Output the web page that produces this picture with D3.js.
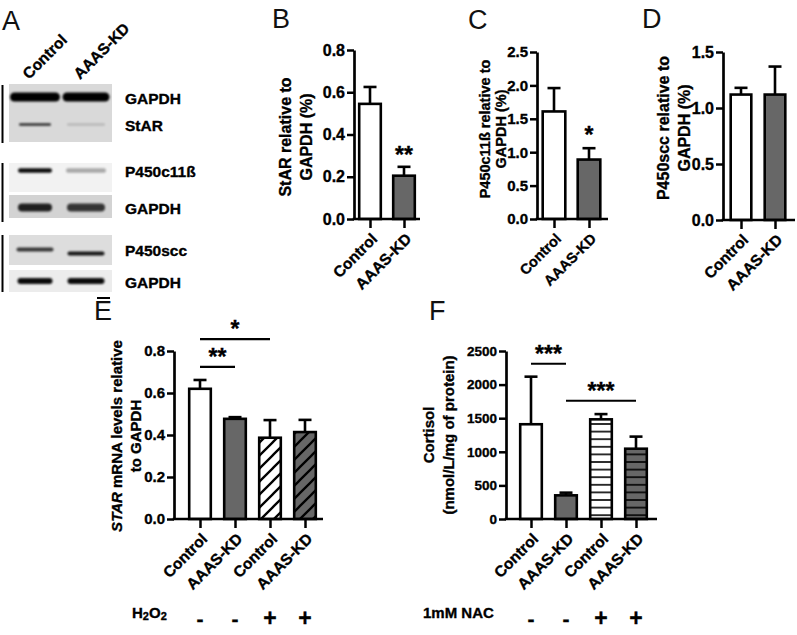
<!DOCTYPE html>
<html><head><meta charset="utf-8">
<script src="https://cdn.jsdelivr.net/npm/d3@7"></script>
<style>
body{margin:0;background:#fff}
svg{display:block}
text{font-family:"Liberation Sans",Arial,Helvetica,sans-serif}
text.heavy{stroke:#000;stroke-width:0.35px}
</style></head><body>
<svg id="fig" width="797" height="635"></svg>
<script>
// ---------------- DATA ----------------
const blotLanes = ["Control", "AAAS-KD"];
const blotProteins = ["GAPDH", "StAR", "P450c11ß", "GAPDH", "P450scc", "GAPDH"];
const blotIntensity = [[1, 1], [0.8, 0.15], [0.95, 0.3], [0.85, 0.75], [0.75, 0.9], [0.95, 0.95]];

const groups2 = ["Control", "AAAS-KD"];
const starProtein = [0.545, 0.205];
const starProteinSem = [0.08, 0.042];
const starTicks = [0, 0.2, 0.4, 0.6, 0.8];

const p450c11 = [1.61, 0.89];
const p450c11Sem = [0.35, 0.17];
const p450c11Ticks = [0, 0.5, 1.0, 1.5, 2.0, 2.5];

const p450scc = [1.12, 1.12];
const p450sccSem = [0.06, 0.25];
const p450sccTicks = [0, 0.5, 1.0, 1.5];

const groups4 = ["Control", "AAAS-KD", "Control", "AAAS-KD"];
const mrnaValues = [0.62, 0.477, 0.387, 0.414];
const mrnaSem = [0.042, 0.008, 0.084, 0.058];
const mrnaTicks = [0, 0.2, 0.4, 0.6, 0.8];
const h2o2Signs = ["-", "-", "+", "+"];

const cortisolValues = [1410, 352, 1483, 1046];
const cortisolSem = [708, 40, 78, 180];
const cortisolTicks = [0, 500, 1000, 1500, 2000, 2500];
const nacSigns = ["-", "-", "+", "+"];

// significance annotations (from, to, value-level, label)
const sigB = [{ from: 1, to: 1, level: 0.31, label: "**" }];
const sigC = [{ from: 1, to: 1, level: 1.27, label: "*" }];
const sigE = [{ from: 0, to: 1, level: 0.724, label: "**" }, { from: 0, to: 2, level: 0.857, label: "*" }];
const sigF = [{ from: 0, to: 1, level: 2310, label: "***" }, { from: 1, to: 3, level: 1760, label: "***" }];

// ---------------- DRAW ----------------
const svg = d3.select("#fig");
svg.append("rect").attr("width", 797).attr("height", 635).attr("fill", "#fff");
const defs = svg.append("defs");
const GRAY = "#676767";

// patterns
function diagPattern(id, bg) {
  const p = defs.append("pattern").attr("id", id).attr("patternUnits", "userSpaceOnUse")
    .attr("width", 13).attr("height", 13);
  p.append("rect").attr("width", 13).attr("height", 13).attr("fill", bg);
  p.append("path").attr("d", "M-2,15 L15,-2 M-8,8 L8,-8 M5,21 L21,5")
    .attr("stroke", "#000").attr("stroke-width", 2.3);
}
function horizPattern(id, bg) {
  const p = defs.append("pattern").attr("id", id).attr("patternUnits", "userSpaceOnUse")
    .attr("width", 10).attr("height", 7.6).attr("y", 519);
  p.append("rect").attr("width", 10).attr("height", 7.6).attr("fill", bg);
  p.append("line").attr("x1", 0).attr("x2", 10).attr("y1", 3.8).attr("y2", 3.8)
    .attr("stroke", "#000").attr("stroke-width", 1.6);
}
diagPattern("diagW", "#fff");
diagPattern("diagG", GRAY);
horizPattern("horW", "#fff");
horizPattern("horG", GRAY);

const blur = defs.append("filter").attr("id", "blur").attr("x", "-20%").attr("y", "-100%").attr("width", "140%").attr("height", "300%");
blur.append("feGaussianBlur").attr("stdDeviation", 1.2);

// panel letters
const letters = [["A", 2, 30], ["B", 272, 28], ["C", 468, 29], ["D", 642, 28], ["E", 94, 320], ["F", 429, 320]];
svg.selectAll("text.letter").data(letters).join("text").attr("class", "letter")
  .attr("x", d => d[1]).attr("y", d => d[2]).attr("font-size", 27).attr("fill", "#111").text(d => d[0]);

// ---------- Panel A : western blot ----------
(function () {
  const g = svg.append("g");
  const lx = d3.scalePoint().domain(blotLanes).range([35, 86]);
  const rowY = [97, 124.5, 170.5, 207.5, 249.5, 281];
  const bandH = [9, 2.6, 4.5, 8, 4, 6];
  const bandW = [[50, 47], [32, 38], [34, 40], [34, 38], [37, 37], [35, 37]];
  const bandDy = [[0, 0], [0, 0], [0, 0], [0, 0], [0, 4], [0, 0]];
  const boxes = [
    { y0: 84, y1: 142, fill: "#d9d9d9" },
    { y0: 163, y1: 192, fill: "#f2f2f2" },
    { y0: 195, y1: 218, fill: "#d3d3d3" },
    { y0: 235, y1: 265, fill: "#dddddd" },
    { y0: 270, y1: 292, fill: "#ececec" }];
  g.selectAll("rect.box").data(boxes).join("rect")
    .attr("x", 9).attr("width", 103).attr("y", d => d.y0).attr("height", d => d.y1 - d.y0).attr("fill", d => d.fill);
  const brackets = [[85, 143], [163, 222], [235, 292]];
  g.selectAll("line.br").data(brackets).join("line")
    .attr("x1", 2.5).attr("x2", 2.5).attr("y1", d => d[0]).attr("y2", d => d[1])
    .attr("stroke", "#000").attr("stroke-width", 2);
  blotProteins.forEach((p, r) => {
    blotLanes.forEach((lane, li) => {
      g.append("rect")
        .attr("x", lx(lane) - bandW[r][li] / 2).attr("width", bandW[r][li])
        .attr("y", rowY[r] + bandDy[r][li] - bandH[r] / 2).attr("height", bandH[r])
        .attr("rx", bandH[r] / 2)
        .attr("fill", "#000").attr("opacity", blotIntensity[r][li])
        .attr("filter", "url(#blur)");
    });
    g.append("text").attr("class", "heavy").attr("x", 125).attr("y", rowY[r] + 1).attr("dy", "0.36em")
      .attr("font-size", 15.5).attr("font-weight", "bold").text(p);
  });
  g.append("line").attr("x1", 97).attr("x2", 110).attr("y1", 298).attr("y2", 298).attr("stroke", "#000").attr("stroke-width", 2);
  g.selectAll("text.lane").data(blotLanes).join("text").attr("class", "heavy")
    .attr("transform", d => `translate(${lx(d) - 6},80) rotate(-45)`)
    .attr("font-size", 15.5).attr("font-weight", "bold").text(d => d);
})();

// ---------- bar chart helper ----------
function barPanel(o) {
  const g = svg.append("g");
  const n = o.cats.length;
  const y = d3.scaleLinear().domain([0, o.max]).range([o.yBase, o.yTop]);
  const x = d3.scalePoint().domain(d3.range(n)).range([o.c0, o.c0 + o.step * (n - 1)]);
  // bars
  g.selectAll("rect.bar").data(o.values).join("rect")
    .attr("x", (d, i) => x(i) - o.barW / 2 + 1.2).attr("width", o.barW - 2.4)
    .attr("y", d => y(d)).attr("height", d => o.yBase - y(d))
    .attr("fill", (d, i) => o.fills[i]).attr("stroke", "#000").attr("stroke-width", 2.6);
  // error bars
  o.values.forEach((v, i) => {
    g.append("line").attr("x1", x(i)).attr("x2", x(i)).attr("y1", y(v)).attr("y2", y(v + o.sem[i]))
      .attr("stroke", "#000").attr("stroke-width", 2.6);
    g.append("line").attr("x1", x(i) - 6.5).attr("x2", x(i) + 6.5).attr("y1", y(v + o.sem[i])).attr("y2", y(v + o.sem[i]))
      .attr("stroke", "#000").attr("stroke-width", 2.6);
  });
  // y axis
  const ya = g.append("g").attr("transform", `translate(${o.axisX},0)`)
    .call(d3.axisLeft(y).tickValues(o.ticks).tickFormat(o.fmt).tickSize(7).tickSizeOuter(0).tickPadding(2));
  ya.select(".domain").attr("stroke-width", 2.7).attr("stroke", "#000");
  ya.selectAll(".tick line").attr("stroke-width", 2.5).attr("stroke", "#000");
  ya.selectAll(".tick text").attr("class", "heavy").attr("font-size", o.tickFont).attr("font-weight", "bold").attr("fill", "#000")
    .attr("font-family", "Liberation Sans, Arial, sans-serif");
  // x axis
  g.append("line").attr("x1", o.axisX - 1.3).attr("x2", o.axisEnd).attr("y1", o.yBase).attr("y2", o.yBase)
    .attr("stroke", "#000").attr("stroke-width", 2.7);
  const xa = g.append("g").attr("transform", `translate(0,${o.yBase})`)
    .call(d3.axisBottom(x).tickSize(9).tickSizeOuter(0).tickFormat(i => o.cats[i]));
  xa.select(".domain").remove();
  xa.selectAll(".tick line").attr("stroke-width", 2.5).attr("stroke", "#000");
  xa.selectAll(".tick text").attr("class", "heavy").attr("x", 0).attr("y", 0).attr("dy", "0.35em")
    .attr("text-anchor", "end").attr("transform", "translate(4,17) rotate(-45)")
    .attr("font-size", o.catFont).attr("font-weight", "bold").attr("fill", "#000")
    .attr("font-family", "Liberation Sans, Arial, sans-serif");
  // y label
  o.ylab.forEach((line, k) => {
    const t = g.append("text").attr("class", "heavy").attr("transform", `translate(${o.ylabX[k]},${o.ylabY}) rotate(-90)`)
      .attr("text-anchor", "middle").attr("dy", "0.35em").attr("font-size", o.labFont).attr("font-weight", "bold");
    line.forEach(seg => t.append("tspan").attr("font-style", seg.i ? "italic" : null).text(seg.t));
  });
  // significance
  (o.sig || []).forEach(s => {
    if (s.from !== s.to) {
      g.append("line").attr("x1", x(s.from)).attr("x2", x(s.to)).attr("y1", y(s.level)).attr("y2", y(s.level))
        .attr("stroke", "#000").attr("stroke-width", 2.2);
    }
    g.append("text").attr("class", "heavy").attr("x", (x(s.from) + x(s.to)) / 2).attr("y", y(s.level) - (s.from !== s.to ? 2 : -9))
      .attr("text-anchor", "middle").attr("font-size", 23).attr("font-weight", "bold").text(s.label);
  });
  // treatment row
  if (o.treat) {
    g.append("text").attr("class", "heavy").attr("x", o.treatX).attr("y", 618).attr("dy", "0.36em").attr("font-size", 15).attr("font-weight", "bold")
      .call(t => o.treatLabel.forEach(seg => t.append("tspan").attr("font-size", seg.sub ? 11 : 15).attr("dy", seg.sub ? 2 : (seg.up ? -2 : 0)).text(seg.t)));
    g.selectAll("text.sign").data(o.treat).join("text").attr("class", "heavy")
      .attr("x", (d, i) => x(i)).attr("y", 618).attr("dy", "0.36em").attr("text-anchor", "middle")
      .attr("font-size", d => d === "+" ? 23 : 21).attr("font-weight", "bold").text(d => d);
  }
  return g;
}

const f1 = d3.format(".1f");
const fI = d3.format("d");

barPanel({ cats: groups2, values: starProtein, sem: starProteinSem, ticks: starTicks, fmt: f1, max: 0.8,
  axisX: 354, axisEnd: 420, yBase: 219, yTop: 50, c0: 370, step: 34, barW: 24,
  fills: ["#fff", GRAY], tickFont: 16, catFont: 15.5, labFont: 16,
  ylab: [[{ t: "StAR relative to" }], [{ t: "GAPDH (%)" }]], ylabX: [285, 306], ylabY: 137, sig: sigB });

barPanel({ cats: groups2, values: p450c11, sem: p450c11Sem, ticks: p450c11Ticks, fmt: f1, max: 2.5,
  axisX: 537, axisEnd: 608, yBase: 219, yTop: 52, c0: 554, step: 35, barW: 25,
  fills: ["#fff", GRAY], tickFont: 15, catFont: 14.5, labFont: 14.5,
  ylab: [[{ t: "P450c11ß relative to" }], [{ t: "GAPDH (%)" }]], ylabX: [485, 501], ylabY: 129, sig: sigC });

barPanel({ cats: groups2, values: p450scc, sem: p450sccSem, ticks: p450sccTicks, fmt: f1, max: 1.5,
  axisX: 723, axisEnd: 795, yBase: 220, yTop: 52, c0: 741, step: 34, barW: 23,
  fills: ["#fff", GRAY], tickFont: 16, catFont: 15.5, labFont: 16,
  ylab: [[{ t: "P450scc relative to" }], [{ t: "GAPDH (%)" }]], ylabX: [663, 684], ylabY: 128 });

barPanel({ cats: groups4, values: mrnaValues, sem: mrnaSem, ticks: mrnaTicks, fmt: f1, max: 0.8,
  axisX: 174, axisEnd: 323, yBase: 519, yTop: 351, c0: 200, step: 35, barW: 24,
  fills: ["#fff", GRAY, "url(#diagW)", "url(#diagG)"], tickFont: 15, catFont: 15.5, labFont: 15,
  ylab: [[{ t: "STAR", i: true }, { t: " mRNA levels relative" }], [{ t: "to GAPDH" }]], ylabX: [117, 136], ylabY: 436, sig: sigE,
  treat: h2o2Signs, treatX: 132, treatLabel: [{ t: "H" }, { t: "2", sub: true }, { t: "O", up: true }, { t: "2", sub: true }] });

barPanel({ cats: groups4, values: cortisolValues, sem: cortisolSem, ticks: cortisolTicks, fmt: fI, max: 2500,
  axisX: 506, axisEnd: 657, yBase: 519, yTop: 351, c0: 531, step: 35, barW: 24,
  fills: ["#fff", GRAY, "url(#horW)", "url(#horG)"], tickFont: 13.5, catFont: 15.5, labFont: 15,
  ylab: [[{ t: "Cortisol" }], [{ t: "(nmol/L/mg of protein)" }]], ylabX: [429, 449], ylabY: 435, sig: sigF,
  treat: nacSigns, treatX: 423, treatLabel: [{ t: "1mM NAC" }] });
</script>
</body></html>
